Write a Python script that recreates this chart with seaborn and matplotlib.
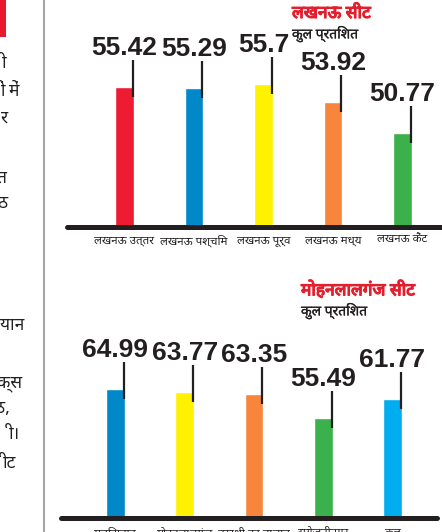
import matplotlib
matplotlib.use("Agg")
import matplotlib.pyplot as plt
import matplotlib.patheffects as pe
import seaborn as sns
from matplotlib import font_manager
from matplotlib.lines import Line2D
from matplotlib.patches import Rectangle

# Data
lko_seats = ["लखनऊ उत्तर", "लखनऊ पश्चिम", "लखनऊ पूर्व", "लखनऊ मध्य", "लखनऊ कैंट"]
lko_values = [55.42, 55.29, 55.7, 53.92, 50.77]
lko_colors = ["#ED1C33", "#0088C8", "#FFF200", "#F7863C", "#3AB14A"]

mlg_seats = ["मलिहाबाद", "मोहनलालगंज", "बख्शी का तालाब", "सरोजनीनगर", "कुल"]
mlg_values = [64.99, 63.77, 63.35, 55.49, 61.77]
mlg_colors = ["#0088C8", "#FFF200", "#F7863C", "#3AB14A", "#00AEEF"]

lko_title = "लखनऊ सीट"
mlg_title = "मोहनलालगंज सीट"
subtitle = "कुल प्रतिशत"

# cropped article text on the left edge
side_text = ["ी", "ों में", "र", "त", "ठ", "यान", "क्स", "ठ,", "ी।", "ीट"]
side_y = [63, 91, 118, 178, 203, 325, 383, 408, 434, 463]
side_right = [6, 20, 8, 7, 8, 24, 22, 10, 20, 16]

sns.set_style("white")

names = {f.name for f in font_manager.fontManager.ttflist}
dev_font = "DejaVu Sans"
for c in ["Noto Sans Devanagari", "Noto Sans Devanagari UI", "Lohit Devanagari", "Mukta", "Hind",
          "FreeSans", "Gargi", "Kalimati", "Samanata", "Sarai"]:
    if c in names:
        dev_font = c
        break
dev_family = [dev_font, "Noto Sans", "DejaVu Sans"]
num_family = ["Liberation Sans", "DejaVu Sans"]
plt.rcParams["font.family"] = dev_family

W, H = 442, 532
fig = plt.figure(figsize=(W / 100, H / 100), dpi=100)

DARK = "#231F20"
RED = "#E31E2D"


def bar_panel(rect_px, cats, vals, colors, ylim, xlim, label_pad):
    x0, top, x1, base = rect_px
    ax = fig.add_axes([x0 / W, 1 - base / H, (x1 - x0) / W, (base - top) / H])
    width = 0.27
    sns.barplot(x=cats, y=vals, hue=cats, palette=colors, width=width, saturation=1,
                legend=False, ax=ax)
    ax.set_ylim(*ylim)
    ax.set_xlim(*xlim)
    sns.despine(ax=ax, left=True, bottom=True)
    ax.set_yticks([])
    ax.set_xlabel("")
    ax.set_ylabel("")
    ax.tick_params(axis="x", length=0, pad=label_pad, labelsize=8.3, labelcolor=DARK)
    for lab in ax.get_xticklabels():
        lab.set_family(dev_family)
    ax.axhline(ylim[0], color=DARK, lw=3.6, clip_on=False)

    # pixel -> data units
    upp = (ylim[1] - ylim[0]) / (base - top)
    for i, v in enumerate(vals):
        xr = i + width / 2 - 0.015
        ax.plot([xr, xr], [v - 10 * upp, v + 27 * upp], color=DARK, lw=1.6,
                solid_capstyle="butt", clip_on=False)
        ax.annotate(f"{v:g}", xy=(i, v), xytext=(0, 32), textcoords="offset pixels",
                    ha="center", va="baseline", fontsize=19, fontweight="bold",
                    color=DARK, family=num_family, annotation_clip=False)
    return ax


def heading(x, y, title):
    fig.text(x / W, 1 - y / H, title, color=RED, fontsize=12.5, fontweight="bold",
             va="center", ha="left",
             path_effects=[pe.withStroke(linewidth=0.9, foreground=RED)])
    fig.text(x / W, 1 - (y + 21) / H, subtitle, color=DARK, fontsize=10, va="center",
             ha="left", path_effects=[pe.withStroke(linewidth=0.2, foreground=DARK)])


# top panel: Lucknow
bar_panel((67, 0, 442, 227), lko_seats, lko_values, lko_colors,
          ylim=(41.3, 41.3 + 227 / 9.9), xlim=(-0.827, 4.57), label_pad=6)
heading(292, 13, lko_title)

# bottom panel: Mohanlalganj
bar_panel((61, 270, 437, 517.7), mlg_seats, mlg_values, mlg_colors,
          ylim=(22.7, 22.7 + (517.7 - 270) / 3.05), xlim=(-0.787, 4.643), label_pad=7)
heading(301, 290, mlg_title)

# page furniture: column rule, red block, cropped article text
fig.add_artist(Line2D([44 / W, 44 / W], [0, 1], transform=fig.transFigure,
                      color="#A5A5A5", lw=1.5))
fig.add_artist(Rectangle((0, 1 - 37 / H), 6 / W, 37 / H, transform=fig.transFigure,
                         color="#E8192C", lw=0))
for t, y, xr in zip(side_text, side_y, side_right):
    fig.text(xr / W, 1 - y / H, t, ha="right", va="center", fontsize=12.5, color=DARK)

fig.savefig("out.png", dpi=100)
